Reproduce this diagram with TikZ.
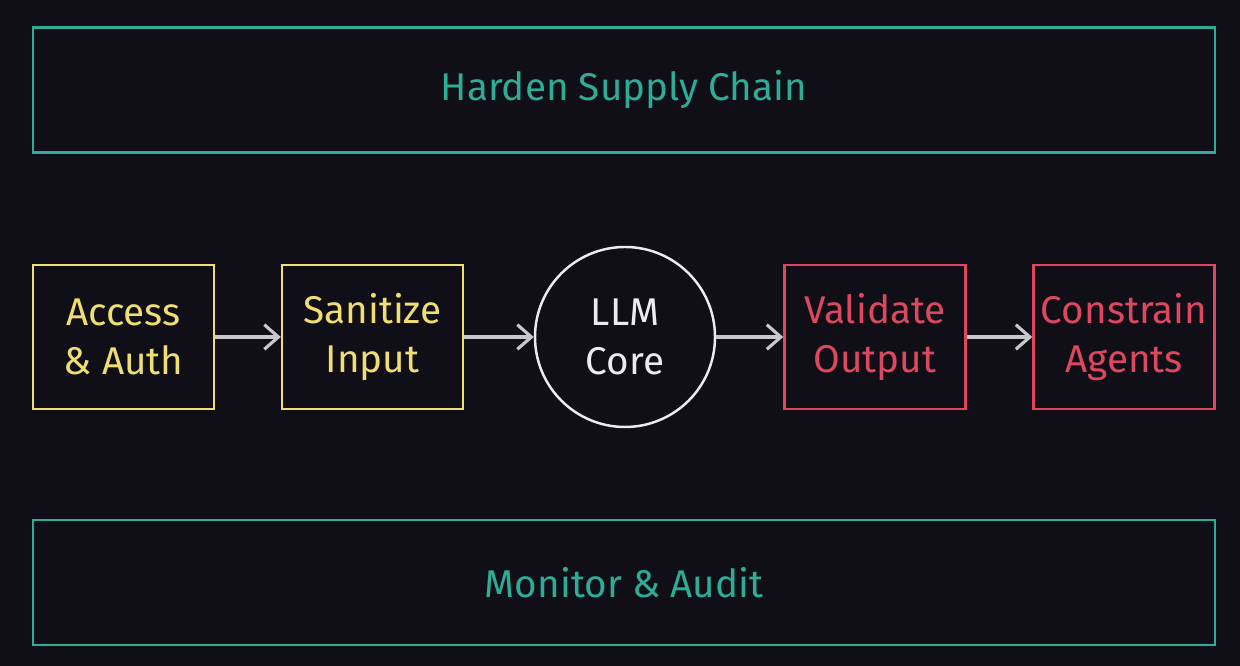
\documentclass[tikz,border=0pt]{standalone}
\usepackage{fontspec}
\setmainfont{Fira Sans}
\usetikzlibrary{positioning,arrows.meta}
\definecolor{bgdark}{RGB}{16,14,22}
\definecolor{tealline}{RGB}{45,172,150}
\definecolor{yellowline}{RGB}{240,222,115}
\definecolor{redline}{RGB}{222,72,95}
\definecolor{coreline}{RGB}{235,235,240}
\tikzset{
  layer/.style={draw=tealline, line width=1.4pt, text=tealline, minimum width=23.64cm, minimum height=2.5cm, font=\fontsize{22}{28}\selectfont},
  stage/.style={draw=#1, line width=1.4pt, text=#1, minimum width=3.62cm, minimum height=2.88cm, inner sep=1pt, align=center, font=\fontsize{22}{28}\selectfont},
  core/.style={draw=coreline, circle, line width=1.4pt, text=coreline, minimum size=3.6cm, align=center, font=\fontsize{22}{28}\selectfont},
  flow/.style={draw=coreline!85!black, line width=1.8pt, -{Straight Barb[length=8pt,width=14pt]}}
}
\begin{document}
\begin{tikzpicture}

    % --- Background ---
    \fill[bgdark] (0,0) rectangle (24.8,13.32);
    \useasboundingbox (0,0) rectangle (24.8,13.32);

    % --- Outer layers ---
    \node[layer] (supply) at (12.48,11.52) {Harden Supply Chain};
    \node[layer] (monitor) at (12.48,1.67) {Monitor \& Audit};

    % --- Pipeline ---
    \node[core] (llm) at (12.5,6.58) {LLM\\Core};
    \node[stage=yellowline] (auth) at (2.47,6.58) {Access\\\& Auth};
    \node[stage=yellowline] (sanitize) at (7.45,6.58) {Sanitize\\Input};
    \node[stage=redline] (validate) at (17.5,6.58) {Validate\\Output};
    \node[stage=redline] (constrain) at (22.48,6.58) {Constrain\\Agents};

    % --- Connectors ---
    \draw[flow] (auth) -- (sanitize);
    \draw[flow] (sanitize) -- (llm);
    \draw[flow] (llm) -- (validate);
    \draw[flow] (validate) -- (constrain);

\end{tikzpicture}
\end{document}
